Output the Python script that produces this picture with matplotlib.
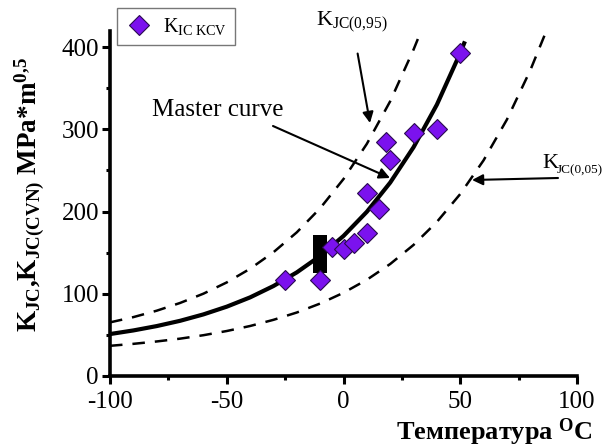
import matplotlib
matplotlib.use("Agg")
import matplotlib.pyplot as plt

# Experimental points K_IC KCV
pts_T = [-25, -10, -5, 0, 4.5, 10, 10, 15, 18, 20, 30, 40, 50]
pts_K = [117, 117, 157, 155, 162, 174, 223, 203, 285, 263, 295, 300, 393]

# Master curve
mc_T = [-100, -90, -80, -70, -60, -50, -40, -30, -20, -10, 0, 10, 20, 30, 40, 50, 52]
mc_K = [51.0, 55.4, 60.7, 67.1, 74.9, 84.3, 95.6, 109.4, 126.0, 146.0, 170.3, 199.7, 235.2, 278.2, 330.0, 392.8, 406.9]

# Upper bound K_JC(0,95)
up_T = [-100, -90, -80, -70, -60, -50, -40, -30, -20, -10, 0, 10, 20, 30, 32]
up_K = [65.2, 71.6, 79.4, 88.8, 100.1, 113.8, 130.4, 150.5, 174.7, 204.0, 239.5, 282.3, 334.1, 396.9, 410.9]

# Lower bound K_JC(0,05)
lo_T = [-100, -90, -80, -70, -60, -50, -40, -30, -20, -10, 0, 10, 20, 30, 40, 50, 60, 70, 80, 86.5]
lo_K = [36.7, 39.1, 42.0, 45.4, 49.6, 54.7, 60.8, 68.3, 77.2, 88.1, 101.2, 117.0, 136.2, 159.4, 187.4, 221.3, 262.3, 311.9, 371.8, 417.0]

# Black bar
bar_T = [-10]
bar_low = [125]
bar_high = [171]

xticks = [-100, -50, 0, 50, 100]
yticks = [0, 100, 200, 300, 400]

plt.rcParams['font.family'] = ['Liberation Serif', 'DejaVu Serif']
plt.rcParams['axes.unicode_minus'] = False
plt.rcParams['mathtext.fontset'] = 'custom'
plt.rcParams['mathtext.rm'] = 'Liberation Serif'
plt.rcParams['mathtext.bf'] = 'Liberation Serif:bold'
plt.rcParams['mathtext.it'] = 'Liberation Serif:italic'

fig = plt.figure(figsize=(6.05, 4.47), dpi=100)
ax = fig.add_axes([110/605, 1-376/447, (577-110)/605, (376-30.6)/447])

ax.plot(up_T, up_K, color='black', lw=1.8, ls=(0, (5, 4)), clip_on=False)
ax.plot(lo_T, lo_K, color='black', lw=1.8, ls=(0, (5, 4)), clip_on=False)
ax.plot(mc_T, mc_K, color='black', lw=3.0, solid_capstyle='butt')
ax.bar(bar_T, [h - l for h, l in zip(bar_high, bar_low)], bottom=bar_low,
       width=6, color='black', zorder=3)
ax.plot(pts_T, pts_K, ls='none', marker='D', markersize=10.5,
        markerfacecolor='#7B12EE', markeredgecolor='#2a0a50', markeredgewidth=0.8,
        zorder=4, label=r'K$_\mathregular{IC\ KCV}$')

ax.set_xlim(-100, 100)
ax.set_ylim(0, 420)
ax.set_xticks(xticks)
ax.set_yticks(yticks)
ax.set_xticks([-75, -25, 25, 75], minor=True)
ax.set_yticks([50, 150, 250, 350], minor=True)
ax.tick_params(which='major', direction='out', length=6, width=2.2, labelsize=18)
ax.tick_params(axis='x', which='major', pad=5)
ax.tick_params(axis='y', which='major', pad=2)
ax.tick_params(which='minor', direction='out', length=3, width=2.2)
for s in ['top', 'right']:
    ax.spines[s].set_visible(False)
for s in ['left', 'bottom']:
    ax.spines[s].set_linewidth(2.6)

ax.set_xlabel(r'Температура $^\mathregular{O}$C', fontsize=19, fontweight='bold')
ax.xaxis.set_label_coords(593/605, 1-432/447, transform=fig.transFigure)
ax.xaxis.label.set_horizontalalignment('right')
ax.xaxis.label.set_verticalalignment('center')
ax.set_ylabel(r'K$_\mathbf{JC}$,K$_\mathbf{JC(CVN)}$ MPa*m$^\mathbf{0{,}5}$',
              fontsize=19.5, fontweight='bold')
ax.yaxis.set_label_coords(30/605, 1-195/447, transform=fig.transFigure)
ax.yaxis.label.set_verticalalignment('center')

leg = ax.legend(loc='upper left', bbox_to_anchor=(117/605, 1-8/447), bbox_transform=fig.transFigure,
                fontsize=14.5, frameon=True, fancybox=False, handletextpad=0.5,
                borderpad=0.4, handlelength=1.4, borderaxespad=0)
leg.get_frame().set_edgecolor('#555555')
leg.get_frame().set_linewidth(1.0)

def px(x, y):
    return (x / 605, 1 - y / 447)

fig.text(*px(218, 110), 'Master curve', fontsize=18, ha='center', va='center')
ax.annotate('', xy=px(390, 178), xycoords='figure fraction',
            xytext=px(273, 126), textcoords='figure fraction',
            arrowprops=dict(arrowstyle='-|>', color='black', lw=1.5,
                            mutation_scale=16, shrinkA=0, shrinkB=0))
ax.annotate(r'K$_\mathregular{JC(0{,}95)}$', xy=px(370, 123), xycoords='figure fraction',
            xytext=px(352, 22), textcoords='figure fraction',
            fontsize=16, ha='center', va='center',
            arrowprops=dict(arrowstyle='-|>', color='black', lw=1.5,
                            mutation_scale=16, shrinkA=12, shrinkB=0))
fig.text(*px(542, 168), 'K', fontsize=16, ha='left', va='baseline')
fig.text(*px(557, 173), 'JC(0,05)', fontsize=9.5, ha='left', va='baseline')
ax.annotate('', xy=px(472, 180), xycoords='figure fraction',
            xytext=px(558, 178), textcoords='figure fraction',
            arrowprops=dict(arrowstyle='-|>', color='black', lw=1.5,
                            mutation_scale=16, shrinkA=0, shrinkB=0))

fig.savefig('out.png', dpi=100)
